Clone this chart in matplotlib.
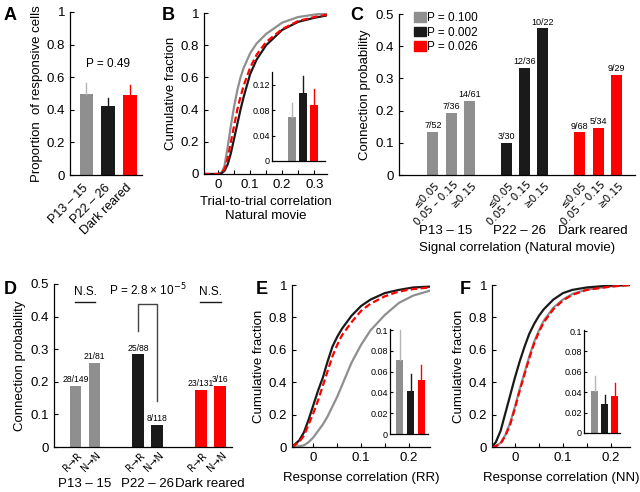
import matplotlib
matplotlib.use('Agg')
import matplotlib.pyplot as plt
from matplotlib.patches import Patch
from matplotlib.ticker import MultipleLocator

plt.rcParams['font.family'] = ['Liberation Sans', 'DejaVu Sans']
plt.rcParams['font.size'] = 9.5

GRAY = '#8f8f8f'
GRAY_ERR = '#b5b5b5'
BLACK = '#1a1a1a'
RED = '#ff0000'
cols = [GRAY, BLACK, RED]
err_cols = [GRAY_ERR, BLACK, RED]

groups = ['P13 – 15', 'P22 – 26', 'Dark reared']

# A: proportion of responsive cells
a_vals = [0.50, 0.425, 0.49]
a_err = [0.065, 0.05, 0.062]

# B: trial-to-trial correlation CDF
b_x = [-0.045, 0, 0.01, 0.02, 0.03, 0.04, 0.05, 0.06, 0.07, 0.08, 0.1, 0.12, 0.15, 0.2, 0.25, 0.3, 0.34]
b_gray = [0, 0, 0.005, 0.05, 0.17, 0.3, 0.42, 0.52, 0.6, 0.66, 0.75, 0.81, 0.87, 0.94, 0.975, 0.99, 1.0]
b_black = [0, 0, 0.004, 0.02, 0.06, 0.13, 0.22, 0.31, 0.4, 0.48, 0.62, 0.71, 0.8, 0.895, 0.945, 0.97, 0.985]
b_red = [0, 0, 0.005, 0.03, 0.1, 0.2, 0.3, 0.4, 0.48, 0.55, 0.66, 0.74, 0.82, 0.9, 0.95, 0.975, 0.99]
b_inset = [0.07, 0.107, 0.088]
b_inset_err = [0.021, 0.026, 0.025]

# C: connection probability vs signal correlation
c_ticks = ['≤0.05', '0.05 – 0.15', '≥0.15']
c_vals = [[0.135, 0.194, 0.23], [0.1, 0.333, 0.455], [0.132, 0.147, 0.31]]
c_frac = [['7/52', '7/36', '14/61'], ['3/30', '12/36', '10/22'], ['9/68', '5/34', '9/29']]
c_p = ['P = 0.100', 'P = 0.002', 'P = 0.026']

# D: connection probability R->R vs N->N
d_ticks = ['R→R', 'N→N']
d_vals = [[0.188, 0.259], [0.284, 0.068], [0.176, 0.1875]]
d_frac = [['28/149', '21/81'], ['25/88', '8/118'], ['23/131', '3/16']]

# E: response correlation (RR) CDF
e_x = [-0.045, -0.03, -0.02, -0.01, 0, 0.01, 0.02, 0.03, 0.04, 0.05, 0.06, 0.07, 0.08, 0.1, 0.12, 0.15, 0.18, 0.21, 0.245]
e_black = [0, 0.04, 0.09, 0.17, 0.26, 0.35, 0.43, 0.53, 0.62, 0.68, 0.73, 0.77, 0.81, 0.87, 0.91, 0.95, 0.97, 0.985, 0.99]
e_red = [0, 0.03, 0.07, 0.14, 0.21, 0.29, 0.38, 0.47, 0.56, 0.63, 0.69, 0.73, 0.77, 0.84, 0.885, 0.93, 0.96, 0.975, 0.985]
e_gray = [0, 0.005, 0.01, 0.03, 0.06, 0.1, 0.14, 0.19, 0.25, 0.31, 0.38, 0.45, 0.52, 0.63, 0.72, 0.815, 0.89, 0.935, 0.965]
e_inset = [0.071, 0.041, 0.052]
e_inset_err = [0.029, 0.017, 0.014]

# F: response correlation (NN) CDF
f_x = [-0.048, -0.04, -0.03, -0.02, -0.01, 0, 0.01, 0.02, 0.03, 0.04, 0.05, 0.06, 0.08, 0.1, 0.12, 0.15, 0.2, 0.24]
f_black = [0, 0.03, 0.1, 0.21, 0.32, 0.43, 0.53, 0.62, 0.7, 0.76, 0.81, 0.85, 0.91, 0.95, 0.97, 0.985, 0.997, 1.0]
f_gray = [0, 0.006, 0.025, 0.075, 0.15, 0.25, 0.36, 0.46, 0.56, 0.65, 0.72, 0.78, 0.86, 0.91, 0.945, 0.972, 0.992, 1.0]
f_red = [0, 0.005, 0.02, 0.07, 0.14, 0.24, 0.35, 0.45, 0.55, 0.64, 0.71, 0.77, 0.85, 0.905, 0.94, 0.97, 0.99, 1.0]
f_inset = [0.041, 0.028, 0.036]
f_inset_err = [0.015, 0.009, 0.013]

W, H = 640, 492
fig = plt.figure(figsize=(6.4, 4.92), dpi=100)


def px_axes(x0, y0, x1, y1):
    return fig.add_axes([x0 / W, (H - y1) / H, (x1 - x0) / W, (y1 - y0) / H])


def style(ax, fs=9.5):
    for s in ['top', 'right']:
        ax.spines[s].set_visible(False)
    for s in ['left', 'bottom']:
        ax.spines[s].set_linewidth(0.9)
    ax.tick_params(direction='in', length=3, width=0.8, labelsize=fs)
    ax.tick_params(which='minor', direction='in', length=3, width=0.8)


def fmt(v):
    return f'{v:g}'


def bars_with_err(ax, xs, vals, errs, width):
    for x, v, e, c, ec in zip(xs, vals, errs, cols, err_cols):
        ax.bar(x, v, width=width, color=c)
        ax.plot([x, x], [v, v + e], color=ec, lw=1.0)


def inset(x0, y0, x1, y1, vals, errs, yticks, ylim, xlim, width):
    ax = px_axes(x0, y0, x1, y1)
    style(ax, fs=6.5)
    bars_with_err(ax, [0, 1, 2], vals, errs, width)
    ax.set_ylim(*ylim)
    ax.set_xlim(*xlim)
    ax.set_yticks(yticks)
    ax.set_yticklabels([fmt(v) for v in yticks])
    ax.set_xticks([])
    ax.tick_params(axis='y', length=2.5, pad=1.5)
    ax.patch.set_alpha(0)
    return ax


def cdf_axes(ax, xlim):
    style(ax)
    ax.set_ylim(0, 1)
    ax.set_xlim(*xlim)
    ax.set_yticks([0, 0.2, 0.4, 0.6, 0.8, 1])
    ax.set_yticklabels([fmt(v) for v in [0, 0.2, 0.4, 0.6, 0.8, 1]])
    ax.xaxis.set_minor_locator(MultipleLocator(0.05))
    ax.set_ylabel('Cumulative fraction', labelpad=3)


# ---------- A ----------
axA = px_axes(70, 12, 142, 175)
style(axA)
bars_with_err(axA, [0, 1, 2], a_vals, a_err, 0.62)
axA.set_ylim(0, 1)
axA.set_xlim(-0.75, 2.55)
axA.set_yticks([0, 0.2, 0.4, 0.6, 0.8, 1])
axA.set_yticklabels([fmt(v) for v in [0, 0.2, 0.4, 0.6, 0.8, 1]])
axA.set_xticks([0, 1, 2])
axA.set_xticklabels(groups, rotation=45, ha='right', va='center', rotation_mode='anchor', fontsize=9)
axA.tick_params(axis='x', length=0, pad=8)
axA.set_ylabel('Proportion  of responsive cells', labelpad=3)
axA.text(1, 0.68, 'P = 0.49', ha='center', va='center', fontsize=8.5)

# ---------- B ----------
axB = px_axes(204, 13, 327, 174)
cdf_axes(axB, (-0.044, 0.34))
axB.plot(b_x, b_gray, color=GRAY, lw=1.6)
axB.plot(b_x, b_black, color=BLACK, lw=1.6)
axB.plot(b_x, b_red, color=RED, lw=1.6, ls=(0, (3, 1.5)))
axB.set_xticks([0, 0.1, 0.2, 0.3])
axB.set_xticklabels([fmt(v) for v in [0, 0.1, 0.2, 0.3]])
axB.set_xlabel('Trial-to-trial correlation\nNatural movie', labelpad=4)
inset(272, 72, 325, 161, b_inset, b_inset_err, [0, 0.04, 0.08, 0.12], (0, 0.14), (-1.8, 2.95), 0.72)

# ---------- C ----------
axC = px_axes(399, 14, 635, 175)
style(axC)
c_pos = []
for g in range(3):
    xs = [g * 4.02 + i for i in range(3)]
    c_pos += xs
    for x, v, t in zip(xs, c_vals[g], c_frac[g]):
        axC.bar(x, v, width=0.6, color=cols[g])
        axC.text(x, v + 0.006, t, ha='center', va='bottom', fontsize=6.5)
    axC.text(xs[1] - 0.3, -0.35, groups[g], ha='center', va='center', fontsize=9.5,
             transform=axC.get_xaxis_transform())
axC.set_ylim(0, 0.5)
axC.set_xlim(-1.85, 11.05)
axC.set_yticks([0, 0.1, 0.2, 0.3, 0.4, 0.5])
axC.set_yticklabels([fmt(v) for v in [0, 0.1, 0.2, 0.3, 0.4, 0.5]])
axC.set_xticks([p + 0.3 for p in c_pos])
axC.set_xticklabels(c_ticks * 3, rotation=45, ha='right', va='center', rotation_mode='anchor',
                    fontsize=7.5, family=['DejaVu Sans'])
axC.tick_params(axis='x', length=0, pad=6)
axC.set_ylabel('Connection probability', labelpad=3)
axC.text(0.5, -0.455, 'Signal correlation (Natural movie)', ha='center', va='center',
         fontsize=9.5, transform=axC.transAxes)
handles = [Patch(color=c) for c in cols]
axC.legend(handles, c_p, loc='upper left', bbox_to_anchor=(0.045, 1.04), frameon=False,
           handlelength=1.0, handleheight=0.9, handletextpad=0.1, labelspacing=0.2,
           fontsize=8.5, borderaxespad=0)

# ---------- D ----------
axD = px_axes(54, 284, 232, 447)
style(axD)
d_pos = []
for g in range(3):
    xs = [g * 3.2 + i * 0.97 for i in range(2)]
    d_pos += xs
    for x, v, t in zip(xs, d_vals[g], d_frac[g]):
        axD.bar(x, v, width=0.6, color=cols[g])
        axD.text(x, v + 0.005, t, ha='center', va='bottom', fontsize=6.2)
    axD.text((xs[0] + xs[1]) / 2, -0.23, groups[g], ha='center', va='center', fontsize=9.5,
             transform=axD.get_xaxis_transform())
axD.set_ylim(0, 0.5)
axD.set_xlim(-1.1, 8.0)
axD.set_yticks([0, 0.1, 0.2, 0.3, 0.4, 0.5])
axD.set_yticklabels([fmt(v) for v in [0, 0.1, 0.2, 0.3, 0.4, 0.5]])
axD.set_xticks([p + 0.25 for p in d_pos])
axD.set_xticklabels(d_ticks * 3, rotation=45, ha='right', va='center', rotation_mode='anchor',
                    fontsize=7, family=['DejaVu Sans'])
axD.tick_params(axis='x', length=0, pad=5)
axD.set_ylabel('Connection probability', labelpad=3)
# significance marks
for g in [0, 2]:
    x0, x1 = d_pos[2 * g], d_pos[2 * g + 1]
    axD.plot([x0 - 0.05, x1 + 0.05], [0.445, 0.445], color=BLACK, lw=1.0)
    axD.text((x0 + x1) / 2, 0.457, 'N.S.', ha='center', va='bottom', fontsize=8.5)
xa, xb = d_pos[2], d_pos[3]
axD.plot([xa, xa, xb, xb], [0.355, 0.44, 0.44, 0.14], color='#444444', lw=1.0)
axD.text((xa + xb) / 2, 0.457, r'P = 2.8 × 10$^{-5}$', ha='center', va='bottom', fontsize=8.5)

# ---------- E ----------
axE = px_axes(292, 285, 430, 447)
cdf_axes(axE, (-0.045, 0.245))
axE.plot(e_x, e_gray, color=GRAY, lw=1.6)
axE.plot(e_x, e_black, color=BLACK, lw=1.6)
axE.plot(e_x, e_red, color=RED, lw=1.6, ls=(0, (3, 1.5)))
axE.set_xticks([0, 0.1, 0.2])
axE.set_xticklabels([fmt(v) for v in [0, 0.1, 0.2]])
axE.set_xlabel('Response correlation (RR)', labelpad=6)
inset(390, 329, 428, 434, e_inset, e_inset_err, [0, 0.02, 0.04, 0.06, 0.08, 0.1],
      (0, 0.101), (-0.91, 2.62), 0.68)

# ---------- F ----------
axF = px_axes(492, 285, 630, 447)
cdf_axes(axF, (-0.048, 0.24))
axF.plot(f_x, f_gray, color=GRAY, lw=1.6)
axF.plot(f_x, f_black, color=BLACK, lw=1.6)
axF.plot(f_x, f_red, color=RED, lw=1.6, ls=(0, (3, 1.5)))
axF.set_xticks([0, 0.1, 0.2])
axF.set_xticklabels([fmt(v) for v in [0, 0.1, 0.2]])
axF.set_xlabel('Response correlation (NN)', labelpad=6)
inset(584, 330, 620, 433, f_inset, f_inset_err, [0, 0.02, 0.04, 0.06, 0.08, 0.1],
      (0, 0.101), (-1.05, 2.55), 0.75)

# panel letters
for lbl, x, y in [('A', 10, 15), ('B', 168, 15), ('C', 357, 15),
                  ('D', 10, 289), ('E', 262, 289), ('F', 465, 289)]:
    fig.text(x / W, 1 - y / H, lbl, fontsize=13, fontweight='bold', ha='center', va='center')

fig.savefig('out.png', dpi=100)
